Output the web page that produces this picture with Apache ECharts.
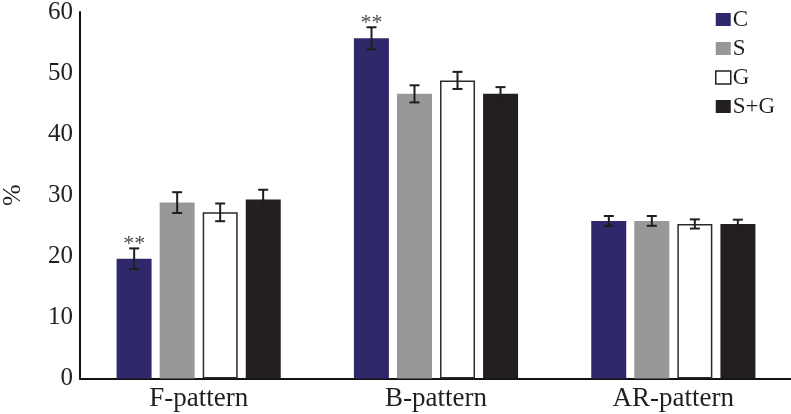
<!DOCTYPE html>
<html>
<head>
<meta charset="utf-8">
<script src="https://cdn.jsdelivr.net/npm/echarts@6/dist/echarts.min.js"></script>
<style>html,body{margin:0;padding:0;background:#fff}#c{width:791px;height:414px}</style>
</head>
<body>
<div id="c"></div>
<script>
const categories = ['F-pattern', 'B-pattern', 'AR-pattern'];
const seriesNames = ['C', 'S', 'G', 'S+G'];
const valC  = [19.6, 55.7, 25.8];
const valS  = [28.8, 46.6, 25.8];
const valG  = [27.2, 48.8, 25.3];
const valSG = [29.3, 46.6, 25.3];
const errC  = [1.7, 1.8, 0.8];
const errS  = [1.7, 1.4, 0.8];
const errG  = [1.45, 1.4, 0.75];
const errSG = [1.6, 1.1, 0.7];
const sigC  = ['**', '**', ''];
const yTicks = [0, 10, 20, 30, 40, 50, 60];

const values = [valC, valS, valG, valSG];
const errors = [errC, errS, errG, errSG];
const sigs = [sigC, null, null, null];
const colors = ['#2f296c', '#98989a', '#ffffff', '#231f20'];
const FONT = '"Liberation Serif", "DejaVu Serif", serif';
const BAR_W = 35, BAR_STEP = 43;

const chart = echarts.init(document.getElementById('c'), null, {renderer: 'canvas'});

const barSeries = seriesNames.map((n, i) => ({
  name: n,
  type: 'bar',
  data: values[i],
  barWidth: BAR_W,
  barGap: '23%',
  barCategoryGap: '31%',
  itemStyle: {
    color: colors[i],
    borderColor: i === 2 ? '#2a2a2a' : colors[i],
    borderWidth: i === 2 ? 1.5 : 0
  },
  emphasis: {disabled: true},
  z: 2
}));

const errSeries = seriesNames.map((n, i) => ({
  type: 'custom',
  name: n + '_err',
  data: values[i].map((v, k) => [k, v, errors[i][k], sigs[i] ? sigs[i][k] : '']),
  z: 5,
  silent: true,
  renderItem: function (params, api) {
    const k = api.value(0), v = api.value(1), e = api.value(2);
    const off = (i - 1.5) * BAR_STEP;
    const top = api.coord([k, v + e]);
    const bot = api.coord([k, v - e]);
    const x = top[0] + off;
    const cap = 5;
    const st = {stroke: '#1e1e1e', lineWidth: 2};
    const children = [
      {type: 'line', shape: {x1: x, y1: top[1], x2: x, y2: bot[1]}, style: st},
      {type: 'line', shape: {x1: x - cap, y1: top[1], x2: x + cap, y2: top[1]}, style: st},
      {type: 'line', shape: {x1: x - cap, y1: bot[1], x2: x + cap, y2: bot[1]}, style: st}
    ];
    const s = sigs[i] ? sigs[i][k] : '';
    if (s) {
      children.push({type: 'text', x: x, y: top[1] + 7, style: {
        text: s, fill: '#4a4a4a', font: '22px ' + FONT, align: 'center', verticalAlign: 'bottom'
      }});
    }
    return {type: 'group', children: children};
  }
}));

chart.setOption({
  animation: false,
  backgroundColor: '#fff',
  grid: {left: 80, top: 12, width: 712, bottom: 35.5, containLabel: false, outerBoundsMode: 'none'},
  legend: {
    orient: 'vertical',
    left: 710, top: 3,
    itemWidth: 15, itemHeight: 13, itemGap: 6,
    data: seriesNames.map((n, i) => ({
      name: n, icon: 'rect',
      itemStyle: {color: colors[i], borderColor: i === 2 ? '#222' : colors[i], borderWidth: i === 2 ? 1.5 : 0}
    })),
    textStyle: {fontFamily: FONT, fontSize: 23, color: '#231f20', lineHeight: 22, padding: [0, 0, 0, -3]},
    selectedMode: false
  },
  xAxis: {
    type: 'category',
    data: categories,
    axisLine: {lineStyle: {color: '#111', width: 2}},
    axisTick: {show: false},
    axisLabel: {fontFamily: FONT, fontSize: 27, color: '#231f20', margin: 7}
  },
  yAxis: {
    type: 'value',
    min: yTicks[0], max: yTicks[yTicks.length - 1], interval: 10,
    name: '%', nameLocation: 'middle', nameRotate: 90, nameGap: 54,
    nameTextStyle: {fontFamily: FONT, fontSize: 26, color: '#231f20'},
    axisLine: {show: true, lineStyle: {color: '#111', width: 2}},
    axisTick: {show: false},
    splitLine: {show: false},
    axisLabel: {fontFamily: FONT, fontSize: 25, color: '#231f20', margin: 7}
  },
  series: barSeries.concat(errSeries)
});
</script>
</body>
</html>
